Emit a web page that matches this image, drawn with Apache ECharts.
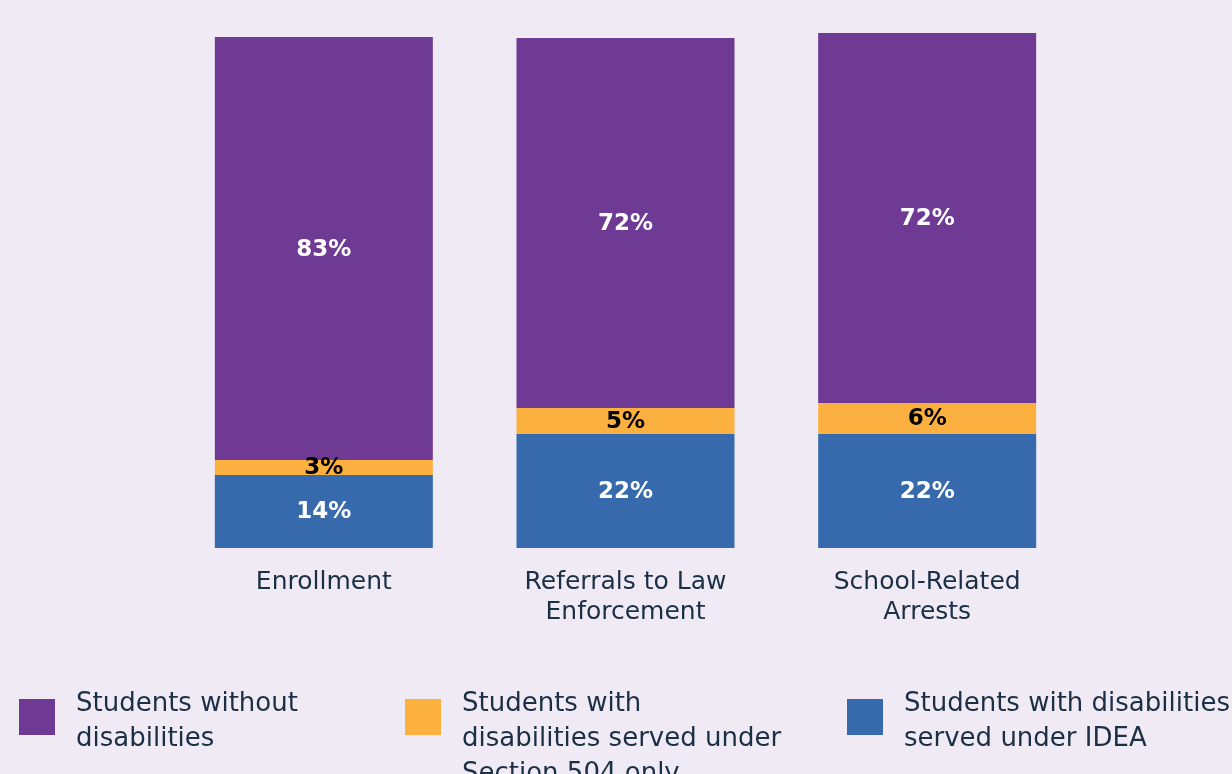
<!DOCTYPE html>
<html>
<head>
<meta charset="utf-8">
<script src="https://cdn.jsdelivr.net/npm/echarts@6/dist/echarts.min.js"></script>
<style>
html,body{margin:0;padding:0;background:#f0eaf5;}
#chart{width:1232px;height:774px;}
</style>
</head>
<body>
<div id="chart"></div>
<script>
var categories = ['Enrollment', 'Referrals to Law\nEnforcement', 'School-Related\nArrests'];
var seriesNames = ['Students with disabilities served under IDEA', 'Students with disabilities served under Section 504 only', 'Students without disabilities'];
var ideaValues = [14.3, 22.3, 22.3];
var section504Values = [2.9, 5.1, 6.1];
var withoutValues = [82.8, 72.4, 72.4];
var legendLines = {
  'Students without disabilities': ['Students without', 'disabilities'],
  'Students with disabilities served under Section 504 only': ['Students with', 'disabilities served under', 'Section 504 only'],
  'Students with disabilities served under IDEA': ['Students with disabilities', 'served under IDEA']
};
var colors = ['#376aad', '#fbb040', '#6f3a93'];
var FONT = 'DejaVu Sans';
var TEXT = '#1b2f45';

function mkSeries(i, data, labelColor) {
  return {
    name: seriesNames[i], type: 'bar', stack: 'total', data: data, barWidth: 218, clip: false,
    itemStyle: { color: colors[i] },
    label: { show: true, position: 'inside', offset: [0, 1], color: labelColor, fontFamily: FONT, fontWeight: 'bold', fontSize: 23,
      formatter: function (p) { return Math.round(p.value) + '%'; } }
  };
}
function mkLegend(name, left) {
  var lines = legendLines[name];
  var n = lines.length;
  var sp = 35 * n - 60;
  var total = 35 * n + sp;
  var top = 699 - (total / 2 - 18);
  return {
    data: [name], left: left, top: top, padding: 0, itemWidth: 36, itemHeight: 36, itemGap: 0,
    icon: 'rect', selectedMode: false,
    formatter: function (nm) {
      return '{sp| }\n' + legendLines[nm].map(function (l) { return '{t|' + l + '}'; }).join('\n');
    },
    textStyle: { color: TEXT, fontFamily: FONT, fontSize: 26, lineHeight: 35, padding: [0, 0, 0, 16],
      rich: {
        sp: { fontSize: 1, lineHeight: sp, height: sp },
        t: { color: TEXT, fontFamily: FONT, fontSize: 26, lineHeight: 35 }
      } }
  };
}
var chart = echarts.init(document.getElementById('chart'));
chart.setOption({
  backgroundColor: '#f0eaf5',
  animation: false,
  grid: { left: 173, right: 154, top: 37, bottom: 226 },
  xAxis: { type: 'category', data: categories, axisLine: { show: false }, axisTick: { show: false },
    axisLabel: { color: TEXT, fontFamily: FONT, fontSize: 25, lineHeight: 30, margin: 19 } },
  yAxis: { type: 'value', min: 0, max: 100, show: false },
  legend: [
    mkLegend(seriesNames[2], 19),
    mkLegend(seriesNames[1], 405),
    mkLegend(seriesNames[0], 847)
  ],
  series: [
    mkSeries(0, ideaValues, '#ffffff'),
    mkSeries(1, section504Values, '#000000'),
    mkSeries(2, withoutValues, '#ffffff')
  ]
});
</script>
</body>
</html>
